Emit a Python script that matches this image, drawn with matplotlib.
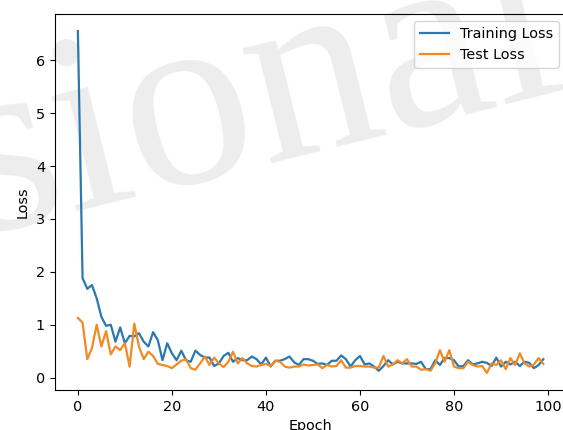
import matplotlib
matplotlib.use("Agg")
import matplotlib.pyplot as plt
import numpy as np

epochs = list(range(100))

train_loss = [6.55, 1.88, 1.68, 1.75, 1.50, 1.15, 0.98, 1.00, 0.68, 0.95,
              0.65, 0.79, 0.78, 0.84, 0.68, 0.59, 0.86, 0.71, 0.33, 0.65,
              0.46, 0.33, 0.51, 0.33, 0.30, 0.51, 0.43, 0.38, 0.38, 0.22,
              0.27, 0.41, 0.47, 0.30, 0.37, 0.33, 0.33, 0.40, 0.35, 0.25,
              0.38, 0.21, 0.32, 0.32, 0.35, 0.40, 0.29, 0.24, 0.35, 0.35,
              0.32, 0.26, 0.27, 0.24, 0.32, 0.32, 0.42, 0.35, 0.21, 0.33,
              0.41, 0.25, 0.27, 0.21, 0.13, 0.22, 0.33, 0.25, 0.30, 0.27,
              0.27, 0.27, 0.26, 0.30, 0.16, 0.16, 0.33, 0.24, 0.37, 0.37,
              0.33, 0.21, 0.22, 0.33, 0.25, 0.27, 0.30, 0.28, 0.22, 0.38,
              0.21, 0.30, 0.25, 0.30, 0.22, 0.30, 0.28, 0.18, 0.24, 0.35]

test_loss = [1.13, 1.04, 0.35, 0.56, 1.00, 0.59, 0.88, 0.44, 0.59, 0.52,
             0.65, 0.21, 1.02, 0.59, 0.35, 0.49, 0.41, 0.26, 0.24, 0.22,
             0.18, 0.25, 0.32, 0.35, 0.18, 0.15, 0.27, 0.40, 0.24, 0.38,
             0.27, 0.20, 0.30, 0.49, 0.27, 0.37, 0.27, 0.22, 0.21, 0.24,
             0.26, 0.22, 0.32, 0.30, 0.21, 0.19, 0.21, 0.21, 0.25, 0.23,
             0.24, 0.25, 0.18, 0.24, 0.21, 0.22, 0.33, 0.19, 0.19, 0.22,
             0.22, 0.21, 0.21, 0.19, 0.19, 0.41, 0.21, 0.25, 0.33, 0.27,
             0.35, 0.21, 0.21, 0.15, 0.16, 0.13, 0.27, 0.52, 0.30, 0.52,
             0.21, 0.18, 0.18, 0.30, 0.24, 0.21, 0.22, 0.09, 0.27, 0.24,
             0.33, 0.16, 0.37, 0.24, 0.46, 0.27, 0.21, 0.25, 0.37, 0.26]

x_ticks = [0, 20, 40, 60, 80, 100]
y_ticks = [0, 1, 2, 3, 4, 5, 6]

fs = 10.4
fig = plt.figure(figsize=(5.63, 4.30), dpi=100)
fig.patch.set_facecolor("white")

# watermark behind everything
fig.text(-0.045, 0.455, "sional", fontsize=185, family="Liberation Serif",
         color="#ededed", rotation=14, rotation_mode="anchor",
         ha="left", va="baseline", zorder=-5)

ax = fig.add_axes([54.6/563, 1 - 390/430, (566.6 - 54.6)/563, (390 - 14)/430])
ax.patch.set_alpha(0)
ax.plot(epochs, train_loss, color="#2a78ae", lw=1.6, label="Training Loss")
ax.plot(epochs, test_loss, color="#f08a24", lw=1.6, label="Test Loss")
ax.set_xticks(x_ticks)
ax.set_yticks(y_ticks)
ax.tick_params(labelsize=fs)
ax.set_xlabel("Epoch", fontsize=fs)
ax.set_ylabel("Loss", fontsize=fs)
ax.legend(loc="upper right", fontsize=fs)

fig.savefig("out.png", dpi=100)
